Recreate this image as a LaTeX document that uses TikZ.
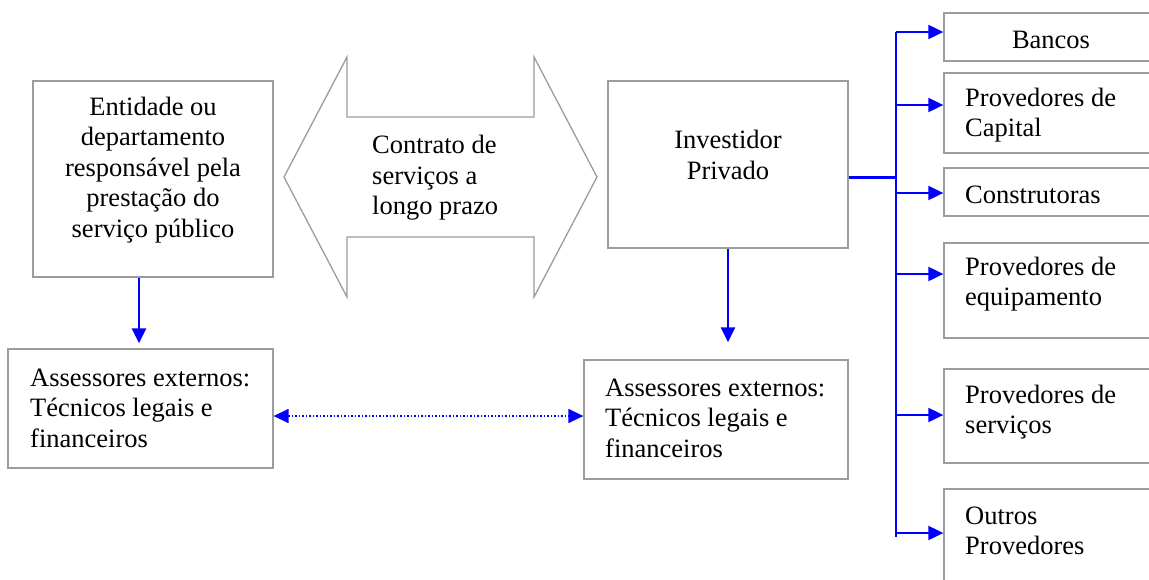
\documentclass[tikz,border=0pt]{standalone}
\usepackage{fontspec}
\setmainfont{Liberation Serif}
\usetikzlibrary{arrows.meta,calc}
\definecolor{boxgray}{HTML}{9C9C9C}
\definecolor{arrblue}{HTML}{0000FF}
\begin{document}
\begin{tikzpicture}[x=1pt,y=-1pt,
  box/.style={draw=boxgray,line width=1.3pt,rectangle,inner sep=0pt},
  txt/.style={inner sep=0pt,font=\fontsize{26.5}{30.5}\selectfont},
  tip/.tip={Triangle[length=15pt,width=14pt]},
  arr/.style={draw=arrblue,line width=2.5pt,-tip},
  brancharr/.style={draw=arrblue,line width=2pt,-tip},
  trunkline/.style={draw=arrblue,line width=2pt},
  mainline/.style={draw=arrblue,line width=3pt},
  dotarr/.style={draw=arrblue,line width=1.5pt,dash pattern=on 1.5pt off 2pt,tip-tip}]
\path[use as bounding box,fill=white] (0,0) rectangle (1149,579);

% left boxes
\node[box,minimum width=240pt,minimum height=196pt] (L) at (153,179) {};
\node[txt,align=center] (Lt) at (153,170) {Entidade ou\\departamento\\responsável pela\\prestação do\\serviço público};
\node[box,minimum width=265pt,minimum height=119pt] (LA) at (140.5,408.5) {};
\node[txt,align=left,anchor=west] (LAt) at (30,408) {Assessores externos:\\Técnicos legais e\\financeiros};

% contract double arrow
\coordinate (dl) at (284,177);
\coordinate (dr) at (597,177);
\draw[draw=boxgray,line width=1.3pt,line join=miter]
  (dl) -- (347,57) -- (347,117) -- (534,117) -- (534,57) -- (dr)
  -- (534,297) -- (534,237) -- (347,237) -- (347,297) -- cycle;
\node[txt,align=left,anchor=west] (ct) at (372,178) {Contrato de\\serviços a\\longo prazo};

% investor
\node[box,minimum width=240pt,minimum height=167pt] (I) at (728,164.5) {};
\node[txt,align=center] (It) at (728,155) {Investidor\\Privado};
\node[box,minimum width=264pt,minimum height=119pt] (RA) at (716,419.5) {};
\node[txt,align=left,anchor=west] (RAt) at (605,418) {Assessores externos:\\Técnicos legais e\\financeiros};

% right column
\node[box,minimum width=214pt,minimum height=48pt] (B) at (1051,37) {};
\node[txt] (Bt) at (1051,40) {Bancos};
\node[box,minimum width=214pt,minimum height=80pt] (C) at (1051,113) {};
\node[txt,align=left,anchor=west] (Ct) at (965,115) {Provedores de\\Capital};
\node[box,minimum width=214pt,minimum height=48pt] (K) at (1051,192) {};
\node[txt,anchor=west] (Kt) at (965,195) {Construtoras};
\node[box,minimum width=214pt,minimum height=95pt] (E) at (1051,290.5) {};
\node[txt,align=left,anchor=west] (Et) at (965,284) {Provedores de\\equipamento};
\node[box,minimum width=214pt,minimum height=94pt] (S) at (1051,416) {};
\node[txt,align=left,anchor=west] (St) at (965,412) {Provedores de\\serviços};
\node[box,minimum width=214pt,minimum height=121pt] (O) at (1051,549.5) {};
\node[txt,align=left,anchor=west] (Ot) at (965,531) {Outros\\Provedores};

% connectors
\draw[arr,shorten >=5pt] ([xshift=-14pt]L.south) -- ([xshift=-14pt]L.south |- LA.north);
\draw[arr,shorten >=17pt] (I.south) -- (I.south |- RA.north);
\coordinate (dy) at (430,416);
\draw[dotarr] (LA.east |- dy) -- (RA.west |- dy);

\coordinate (tB) at (896,32);
\coordinate (tC) at (896,105);
\coordinate (tM) at (896,177);
\coordinate (tK) at (896,193);
\coordinate (tE) at (896,274);
\coordinate (tS) at (896,415);
\coordinate (tO) at (896,533);
\coordinate (tEnd) at (896,537);
\draw[trunkline] (tB) -- (tEnd);
\draw[mainline] (I.east |- tM) -- (tM);
\draw[brancharr] (tB) -- (tB -| B.west);
\draw[brancharr] (tC) -- (tC -| C.west);
\draw[brancharr] (tK) -- (tK -| K.west);
\draw[brancharr] (tE) -- (tE -| E.west);
\draw[brancharr] (tS) -- (tS -| S.west);
\draw[brancharr] (tO) -- (tO -| O.west);
\end{tikzpicture}
\end{document}
